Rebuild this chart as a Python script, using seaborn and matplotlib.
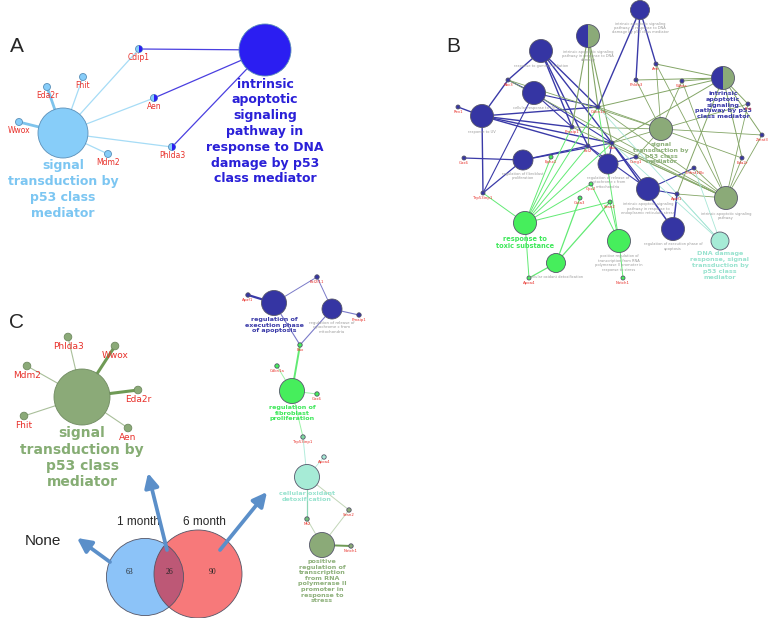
import numpy as np
import pandas as pd
import matplotlib.pyplot as plt
import seaborn as sns
from matplotlib.markers import MarkerStyle
from matplotlib.patches import Circle

sns.set_theme(style="white")
plt.rcParams['font.family'] = ['DejaVu Sans']

# ---- colours
RED = "#e8302a"
GRAY = "#9a9a9a"
LBLUE = "#87cdf9"
VBLUE = "#2b1ef2"
NAVY = "#3535a3"
SAGE = "#8baa78"
GREEN = "#46ee5c"
TEAL = "#a6ebd6"

# ---- panel A: nodes
a_name = ["signal\ntransduction by\np53 class\nmediator",
          "intrinsic\napoptotic\nsignaling\npathway in\nresponse to DNA\ndamage by p53\nclass mediator",
          "Cdip1", "Fhit", "Eda2r", "Aen", "Wwox", "Mdm2", "Phlda3"]
a_x = [63, 265, 139, 83, 47, 154, 19, 108, 172]
a_y = [133, 50, 49, 77, 87, 98, 122, 154, 147]
a_r = [25, 26, 3.5, 3.5, 3.5, 3.5, 3.5, 3.5, 3.5]
a_fill = [LBLUE, VBLUE] + [LBLUE] * 7
a_half = [None, None, VBLUE, None, None, VBLUE, None, None, VBLUE]
a_edges = [(0, 2, "#a6dcf6", 0.9), (0, 3, "#a6dcf6", 0.9), (0, 4, "#7fc4ec", 2.0),
           (0, 6, "#7fc4ec", 2.0), (0, 7, "#a6dcf6", 0.9), (0, 5, "#a6dcf6", 0.9),
           (0, 8, "#a6dcf6", 0.9), (1, 2, "#4a3fe0", 0.9), (1, 5, "#4a3fe0", 0.9),
           (1, 8, "#4a3fe0", 0.9)]

# ---- panel B: nodes
b_name = ["intrinsic apoptotic signaling\npathway in response to DNA\ndamage by p53 class mediator",
          "intrinsic apoptotic signaling\npathway in response to DNA\ndamage",
          "response to gamma radiation", "cellular response to UV", "response to UV",
          "intrinsic\napoptotic\nsignaling\npathway by p53\nclass mediator",
          "signal\ntransduction by\np53 class\nmediator",
          "regulation of fibroblast\nproliferation",
          "regulation of release of\ncytochrome c from\nmitochondria",
          "intrinsic apoptotic signaling\npathway in response to\nendoplasmic reticulum stress",
          "regulation of execution phase of\napoptosis",
          "intrinsic apoptotic signaling\npathway",
          "response to\ntoxic substance",
          "positive regulation of\ntranscription from RNA\npolymerase II promoter in\nresponse to stress",
          "cellular oxidant detoxification",
          "DNA damage\nresponse, signal\ntransduction by\np53 class\nmediator",
          "Bbc3", "Rev1", "Aen", "Phlda3", "Wwox", "Fhit", "Zmat3", "Cdkn1a", "Pmaip1",
          "Bcl2", "Bax", "Gas6", "Ephx1", "Ccng1", "Trp53inp1", "Gpx2", "Gsta3", "Sesn2",
          "Apoa4", "Notch1", "Apaf1", "Tnfrsf10b", "Eda2r"]
b_x = [640, 588, 541, 534, 482, 723, 661, 523, 608, 648, 673, 726, 525, 619, 556, 720,
       508, 458, 656, 636, 682, 748, 762, 598, 572, 588, 612, 464, 551, 636, 483, 591,
       580, 610, 529, 623, 677, 694, 742]
b_y = [10, 36, 51, 93, 116, 78, 129, 160, 164, 189, 229, 198, 223, 241, 263, 241,
       80, 107, 64, 80, 81, 104, 135, 107, 127, 146, 143, 158, 157, 157, 193, 184,
       198, 202, 278, 278, 194, 168, 158]
b_r = [9.5, 11.5, 11.5, 11.5, 11.5, 11.5, 11.5, 10, 10, 11.5, 11.5, 11.5, 11.5, 11.5, 9.5, 9] + [2] * 23
b_fill = [NAVY, SAGE, NAVY, NAVY, NAVY, SAGE, SAGE, NAVY, NAVY, NAVY, NAVY, SAGE, GREEN, GREEN, GREEN, TEAL] + \
         [NAVY, NAVY, NAVY, NAVY, NAVY, NAVY, NAVY, NAVY, NAVY, NAVY, NAVY, NAVY, GREEN, NAVY,
          NAVY, GREEN, GREEN, GREEN, GREEN, GREEN, NAVY, NAVY, NAVY]
b_half = [None, NAVY, None, None, None, NAVY] + [None] * 33

BN, BS, BG, BT = "#3a3aa8", "#83a566", "#62ea74", "#a8e6d6"
b_edges = []
for src, dsts, col, lw in [
        (0, ["Phlda3", "Aen", "Cdkn1a"], BN, 1.0),
        (2, ["Bbc3", "Cdkn1a", "Bax", "Bcl2", "Pmaip1"], BN, 1.0),
        (3, ["Bbc3", "Cdkn1a", "Bax", "Pmaip1", "Trp53inp1"], BN, 0.8),
        (4, ["Rev1", "Bbc3", "Cdkn1a", "Bax", "Pmaip1", "Trp53inp1", "Bcl2"], BN, 1.0),
        (7, ["Gas6", "Trp53inp1", "Bcl2", "Bax"], BN, 0.9),
        (8, ["Bax", "Bcl2", "Ccng1"], BN, 0.8),
        (9, ["Tnfrsf10b", "Apaf1", "Bax", "Bcl2"], BN, 0.8),
        (10, ["Apaf1", "Bax"], BN, 1.1),
        (1, ["Bax", "Cdkn1a", "Pmaip1", "Bcl2"], BS, 0.8),
        (5, ["Phlda3", "Wwox", "Cdkn1a", "Zmat3", "Eda2r", "Fhit", "Apaf1", "Bax", "Aen"], BS, 0.7),
        (6, ["Aen", "Phlda3", "Wwox", "Cdkn1a", "Bax", "Bbc3", "Eda2r", "Ccng1", "Zmat3", "Fhit", "Pmaip1"], BS, 0.6),
        (11, ["Aen", "Wwox", "Eda2r", "Fhit", "Bax", "Cdkn1a", "Apaf1", "Tnfrsf10b", "Bbc3",
              "Ccng1", "Pmaip1", "Zmat3"], BS, 0.6),
        (12, ["Trp53inp1", "Ephx1", "Gpx2", "Sesn2", "Cdkn1a", "Bax", "Apoa4", "Pmaip1", "Bcl2"], BG, 0.7),
        (13, ["Sesn2", "Notch1", "Gpx2", "Cdkn1a"], BG, 0.7),
        (14, ["Apoa4", "Sesn2", "Gsta3"], BG, 0.9),
        (15, ["Apaf1", "Bax", "Cdkn1a", "Tnfrsf10b"], BT, 0.6)]:
    for d in dsts:
        b_edges.append((src, b_name.index(d), col, lw))

# ---- panel C (left) nodes
cl_name = ["signal\ntransduction by\np53 class\nmediator", "Phlda3", "Wwox", "Mdm2", "Eda2r", "Fhit", "Aen"]
cl_x = [82, 68, 115, 27, 138, 24, 128]
cl_y = [397, 337, 346, 366, 390, 416, 428]
cl_r = [28, 3.8, 3.8, 3.8, 3.8, 3.8, 3.8]
cl_edges = [(0, 1, "#a9bf9a", 0.8), (0, 2, "#6f9a55", 2.2), (0, 3, "#a9bf9a", 0.8),
            (0, 4, "#6f9a55", 2.2), (0, 5, "#a9bf9a", 0.8), (0, 6, "#a9bf9a", 0.8)]

# ---- panel C (right) nodes
cr_name = ["regulation of\nexecution phase\nof apoptosis",
           "regulation of release of\ncytochrome c from\nmitochondria",
           "regulation of\nfibroblast\nproliferation",
           "cellular oxidant\ndetoxification",
           "positive\nregulation of\ntranscription\nfrom RNA\npolymerase II\npromoter in\nresponse to\nstress",
           "Apaf1", "Bcl2l11", "Pmaip1", "Bax", "Cdkn1a", "Gas6", "Trp53inp1",
           "Apoa4", "Mt2", "Sesn2", "Notch1"]
cr_x = [274, 332, 292, 307, 322, 248, 317, 359, 300, 277, 317, 303, 324, 307, 349, 351]
cr_y = [303, 309, 391, 477, 545, 295, 277, 315, 345, 366, 394, 437, 457, 519, 510, 546]
cr_r = [12.5, 10, 12.5, 12.5, 12.5] + [2.2] * 11
cr_fill = [NAVY, NAVY, GREEN, TEAL, SAGE, NAVY, NAVY, NAVY, GREEN, GREEN, GREEN,
           "#7fd9a0", TEAL, "#6fbf7a", SAGE, SAGE]
cr_edges = [(5, 0, BN, 1.6), (0, 6, "#7a7ac8", 0.7), (6, 1, "#7a7ac8", 0.7),
            (1, 7, "#7a7ac8", 0.8), (0, 8, "#7a7ac8", 0.8), (1, 8, "#7a7ac8", 0.8),
            (8, 2, BG, 1.4), (9, 2, "#9ef2a8", 0.7), (2, 10, "#9ef2a8", 0.7),
            (2, 11, "#9ef2a8", 0.7), (11, 3, "#b3ecdc", 0.7), (3, 12, "#b3ecdc", 0.6),
            (3, 13, "#8fd8b8", 0.9), (3, 14, "#c2d6b8", 0.7), (13, 4, "#c2d6b8", 0.7),
            (14, 4, "#c2d6b8", 0.7), (4, 15, "#6f9a55", 1.4)]

# ---- Venn counts
venn_labels = ["1 month", "6 month"]
only_1m, both, only_6m = 63, 26, 90


def r2s(r):
    # radius in pixels -> scatter marker area (pt^2) at dpi 100
    return (2 * r * 0.72) ** 2


def draw_net(ax, names, xs, ys, rs, fills, edges, edgecol, halves=None,
             gene_fs=3.0, term_fs=2.7, bold=None, term_color=GRAY):
    df = pd.DataFrame({"name": names, "x": xs, "y": ys, "r": rs, "fill": fills})
    for i, j, col, lw in edges:
        ax.plot([xs[i], xs[j]], [ys[i], ys[j]], color=col, lw=lw, zorder=1,
                solid_capstyle="round")
    sns.scatterplot(data=df, x="x", y="y", hue="fill",
                    palette={c: c for c in df["fill"].unique()},
                    s=r2s(df["r"].values), edgecolor=edgecol, linewidth=0.6,
                    legend=False, ax=ax, zorder=3)
    if halves is not None:
        h = df[[c is not None for c in halves]].copy()
        if len(h):
            h["hc"] = [c for c in halves if c is not None]
            sns.scatterplot(data=h, x="x", y="y", hue="hc",
                            palette={c: c for c in h["hc"].unique()},
                            marker=MarkerStyle("o", fillstyle="left" if h["r"].max() > 5 else "right"),
                            s=r2s(h["r"].values) * 0.97, linewidth=0,
                            legend=False, ax=ax, zorder=4)
    bold = bold or {}
    for k, row in df.iterrows():
        if row["r"] < 5:
            ax.text(row.x, row.y + row.r + gene_fs * 0.9, row["name"], color=RED,
                    fontsize=gene_fs, ha="center", va="center", zorder=5)
        elif k in bold:
            col, fs, ls = bold[k]
            ax.text(row.x, row.y + row.r + 1.5, row["name"], color=col, fontsize=fs,
                    fontweight="bold", ha="center", va="top", linespacing=ls, zorder=5)
        else:
            ax.text(row.x, row.y + row.r + 2, row["name"], color=term_color,
                    fontsize=term_fs, ha="center", va="top", linespacing=1.15, zorder=5)


fig = plt.figure(figsize=(7.69, 6.18), dpi=100)
ax = fig.add_axes([0, 0, 1, 1])
ax.set_xlim(0, 769)
ax.set_ylim(618, 0)
ax.axis("off")

# panel letters
for lab, px, py in [("A", 17, 47), ("B", 453, 47), ("C", 17, 323)]:
    ax.text(px, py, lab, fontsize=15, family="Liberation Sans", ha="center", va="center")

# A
draw_net(ax, a_name, a_x, a_y, a_r, a_fill, a_edges, "#5a8fb8", halves=a_half,
         gene_fs=5.5, bold={0: ("#7cc6f2", 9, 1.28), 1: ("#2a20d8", 9, 1.28)})

# B
draw_net(ax, b_name, b_x, b_y, b_r, b_fill, b_edges, "#55556a", halves=b_half,
         gene_fs=2.8, term_fs=2.6,
         bold={5: ("#3a3aa8", 4.6, 1.2), 6: ("#8db07a", 4.5, 1.2),
               12: ("#3ee85a", 4.8, 1.2), 15: ("#98e3cf", 4.6, 1.2)})

# C left
draw_net(ax, cl_name, cl_x, cl_y, cl_r, [SAGE] * 7, cl_edges, "#6f8a60",
         gene_fs=6.5, bold={0: ("#86ad74", 10, 1.2)})

# C right
draw_net(ax, cr_name, cr_x, cr_y, cr_r, cr_fill, cr_edges, "#55556a",
         gene_fs=2.8, term_fs=2.8,
         bold={0: ("#3a3aa8", 4.6, 1.15), 2: ("#3ee85a", 4.6, 1.15),
               3: ("#98e3cf", 4.6, 1.15), 4: ("#8db07a", 4.6, 1.15)})

# Venn diagram (areas proportional to set sizes)
r6 = 44
r1 = r6 * np.sqrt((only_1m + both) / (only_6m + both))
c1, c6 = (145, 577), (198, 574)
left = Circle(c1, r1, facecolor="#8cc3f8", edgecolor="none", zorder=2)
right = Circle(c6, r6, facecolor="#f7797a", edgecolor="none", zorder=2)
ax.add_patch(left)
ax.add_patch(right)
mid = Circle(c6, r6, facecolor="#bd5876", edgecolor="none", zorder=2.5)
ax.add_patch(mid)
mid.set_clip_path(left)
ax.add_patch(Circle(c1, r1, facecolor="none", edgecolor="#555566", lw=0.6, zorder=3))
ax.add_patch(Circle(c6, r6, facecolor="none", edgecolor="#555566", lw=0.6, zorder=3))
for val, vx in [(only_1m, 130), (both, 169), (only_6m, 213)]:
    ax.text(vx, 572, str(val), fontsize=5.5, family="Liberation Serif",
            ha="center", va="center", zorder=4)
ax.text(138, 522, venn_labels[0], fontsize=8.5, family="Liberation Sans", ha="center", va="center")
ax.text(204, 522, venn_labels[1], fontsize=8.5, family="Liberation Sans", ha="center", va="center")
ax.text(43, 541, "None", fontsize=11, family="Liberation Sans", ha="center", va="center")

# arrows from Venn regions to the panels
for tail, tip in [((110, 562), (77, 538)), ((167, 550), (148, 473)), ((220, 550), (267, 492))]:
    ax.annotate("", xy=tip, xytext=tail, zorder=6,
                arrowprops=dict(arrowstyle="-|>,head_width=0.35,head_length=0.7",
                                color="#5b8fc9", lw=2.7, shrinkA=0, shrinkB=0))

fig.savefig("out.png", dpi=100)
